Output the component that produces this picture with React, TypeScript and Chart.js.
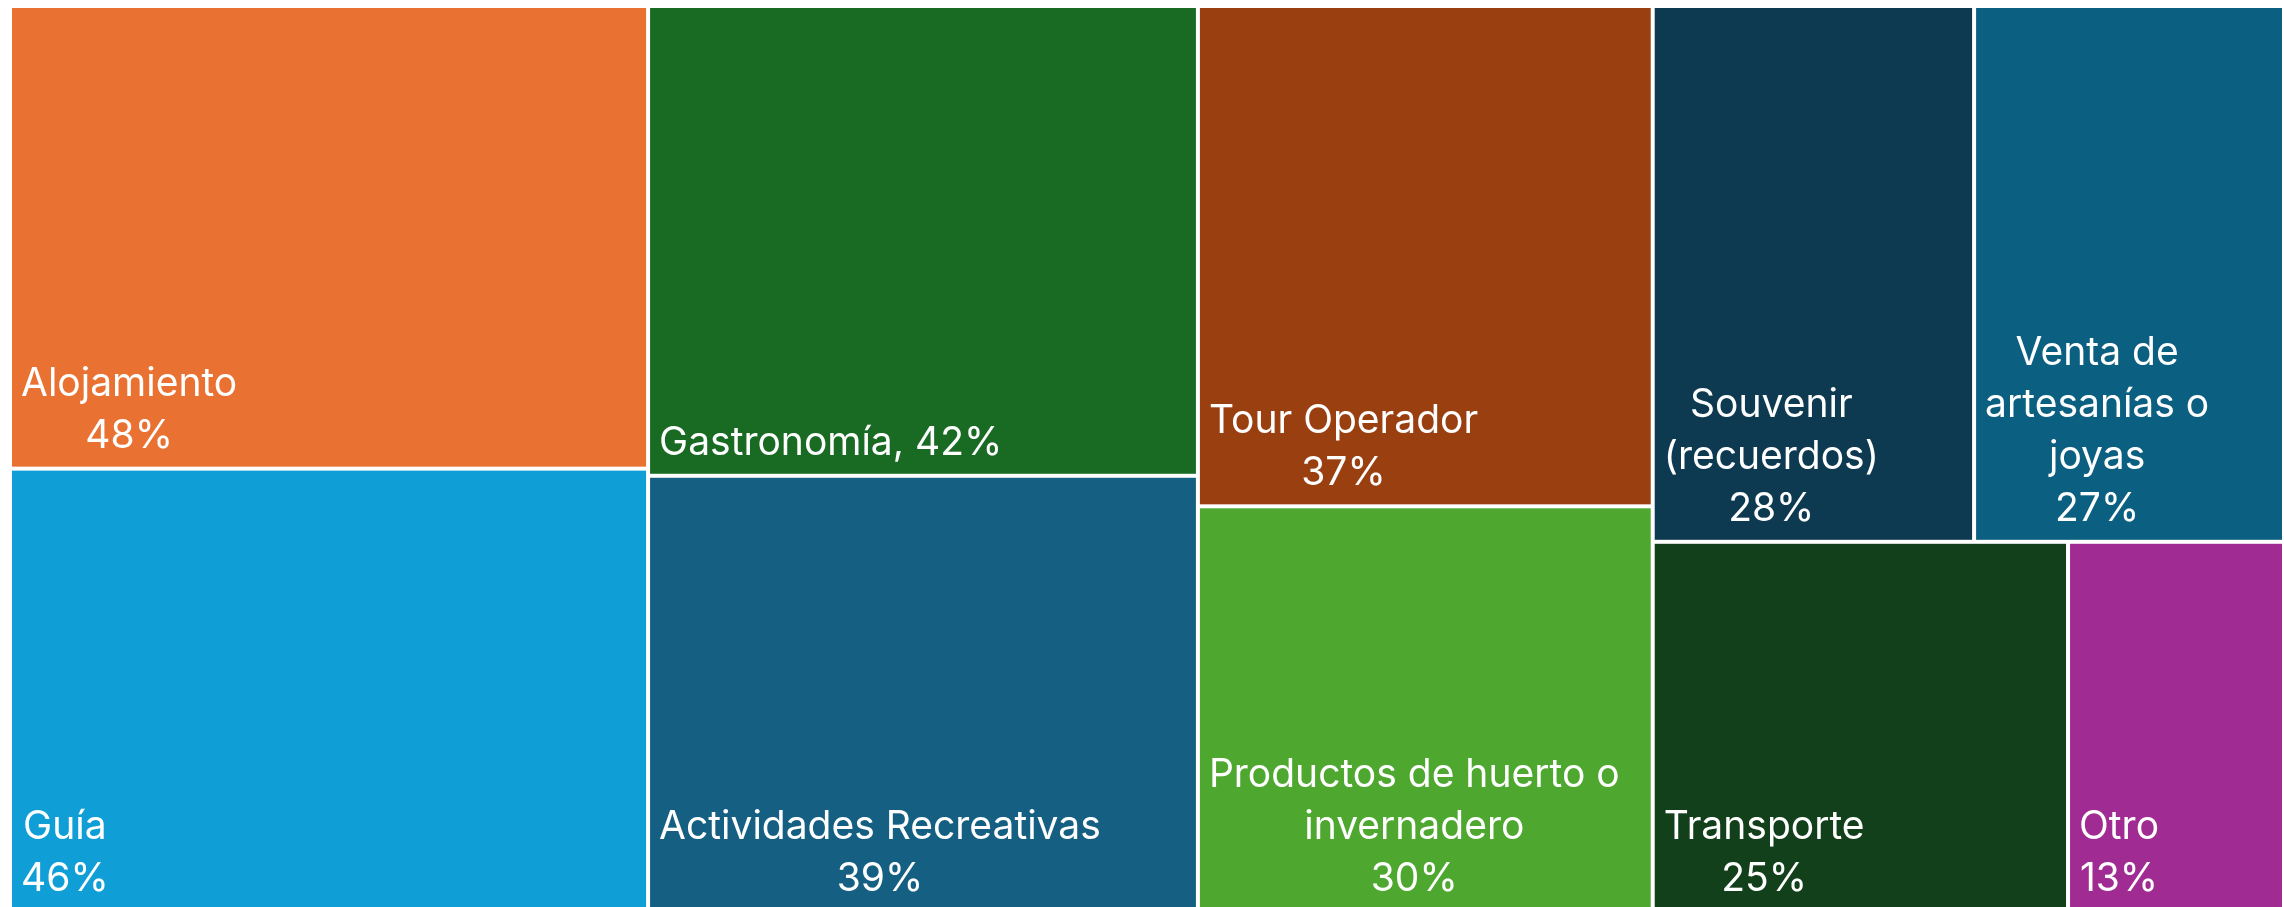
import React, { useEffect, useRef } from "react";
import { Chart, registerables } from "chart.js";

Chart.register(...registerables);

// ---- data ----
const categories = [
  "Alojamiento",
  "Guía",
  "Gastronomía",
  "Actividades Recreativas",
  "Tour Operador",
  "Productos de huerto o invernadero",
  "Souvenir (recuerdos)",
  "Venta de artesanías o joyas",
  "Transporte",
  "Otro",
];
const values = [48, 46, 42, 39, 37, 30, 28, 27, 25, 13];
// label lines as they appear (wrapped names)
const nameLines: string[][] = [
  ["Alojamiento"],
  ["Guía"],
  ["Gastronomía"],
  ["Actividades Recreativas"],
  ["Tour Operador"],
  ["Productos de huerto o", "invernadero"],
  ["Souvenir", "(recuerdos)"],
  ["Venta de", "artesanías o", "joyas"],
  ["Transporte"],
  ["Otro"],
];
// whether the value is appended inline (", 42%") instead of on its own line
const valueInline = [false, false, true, false, false, false, false, false, false, false];
const colors = [
  "#E97132",
  "#0F9ED5",
  "#196B24",
  "#156082",
  "#9A3F10",
  "#4EA72E",
  "#0E3A51",
  "#0B5F80",
  "#12401A",
  "#A02B93",
];

type Rect = { x: number; y: number; w: number; h: number; i: number };

function worst(areas: number[], side: number): number {
  const sum = areas.reduce((a, b) => a + b, 0);
  let m = 0;
  for (const a of areas) {
    const r = Math.max((side * side * a) / (sum * sum), (sum * sum) / (side * side * a));
    if (r > m) m = r;
  }
  return m;
}

function squarify(vals: number[], x: number, y: number, w: number, h: number): Rect[] {
  const total = vals.reduce((a, b) => a + b, 0);
  const items = vals.map((v, i) => ({ a: (v / total) * w * h, i }));
  const out: Rect[] = [];
  let k = 0;
  while (k < items.length) {
    const side = Math.min(w, h);
    const row = [items[k]];
    let j = k + 1;
    while (
      j < items.length &&
      worst([...row, items[j]].map((r) => r.a), side) <= worst(row.map((r) => r.a), side)
    ) {
      row.push(items[j]);
      j++;
    }
    const sum = row.reduce((s, r) => s + r.a, 0);
    if (w >= h) {
      const cw = sum / h;
      let cy = y;
      for (const r of row) {
        const rh = r.a / cw;
        out.push({ x, y: cy, w: cw, h: rh, i: r.i });
        cy += rh;
      }
      x += cw;
      w -= cw;
    } else {
      const rh = sum / w;
      let cx = x;
      for (const r of row) {
        const rw = r.a / rh;
        out.push({ x: cx, y, w: rw, h: rh, i: r.i });
        cx += rw;
      }
      y += rh;
      h -= rh;
    }
    k = j;
  }
  return out;
}

const FONT = "39px Inter, 'Noto Sans', sans-serif";

const treemapPlugin = {
  id: "treemapCells",
  beforeDatasetsDraw(chart: any) {
    const ctx = chart.ctx as CanvasRenderingContext2D;
    const xs = chart.scales.x;
    const ys = chart.scales.y;
    const x0 = xs.getPixelForValue(0);
    const x1 = xs.getPixelForValue(1);
    const y0 = ys.getPixelForValue(0);
    const y1 = ys.getPixelForValue(1);
    const rects = squarify(values, x0, y0, x1 - x0, y1 - y0);
    const gap = 2;
    ctx.save();
    for (const r of rects) {
      const left = r.x + gap;
      const top = r.y + gap;
      const w = r.w - gap * 2;
      const h = r.h - gap * 2;
      ctx.fillStyle = colors[r.i];
      ctx.fillRect(left, top, w, h);

      const lines = [...nameLines[r.i]];
      const pct = `${values[r.i]}%`;
      if (valueInline[r.i]) lines[lines.length - 1] = `${lines[lines.length - 1]}, ${pct}`;
      else lines.push(pct);

      ctx.font = FONT;
      ctx.fillStyle = "#FFFFFF";
      ctx.textBaseline = "alphabetic";
      ctx.textAlign = "center";
      const widths = lines.map((l) => ctx.measureText(l).width);
      const blockW = Math.max(...widths);
      const cx = left + 9 + blockW / 2;
      const lineH = 52;
      const lastBase = top + h - 19;
      lines.forEach((l, idx) => {
        const by = lastBase - (lines.length - 1 - idx) * lineH;
        ctx.fillText(l, cx, by);
      });
    }
    ctx.restore();
  },
};

export default function App() {
  const ref = useRef<HTMLCanvasElement | null>(null);
  useEffect(() => {
    document.body.style.margin = "0";
    if (!ref.current) return;
    const chart = new Chart(ref.current, {
      type: "scatter",
      data: {
        labels: categories,
        datasets: [{ label: "Servicios", data: [], pointRadius: 0 }],
      },
      options: {
        animation: false,
        responsive: false,
        devicePixelRatio: 1,
        layout: { padding: { left: 10, right: 0, top: 6, bottom: 1 } },
        plugins: { legend: { display: false }, tooltip: { enabled: false } },
        scales: {
          x: { type: "linear", min: 0, max: 1, display: false },
          y: { type: "linear", min: 0, max: 1, reverse: true, display: false },
        },
      },
      plugins: [treemapPlugin],
    });
    return () => chart.destroy();
  }, []);
  return (
    <div style={{ width: 2284, height: 907, overflow: "hidden", background: "#FFFFFF" }}>
      <canvas ref={ref} width={2284} height={913} style={{ display: "block" }} />
    </div>
  );
}
